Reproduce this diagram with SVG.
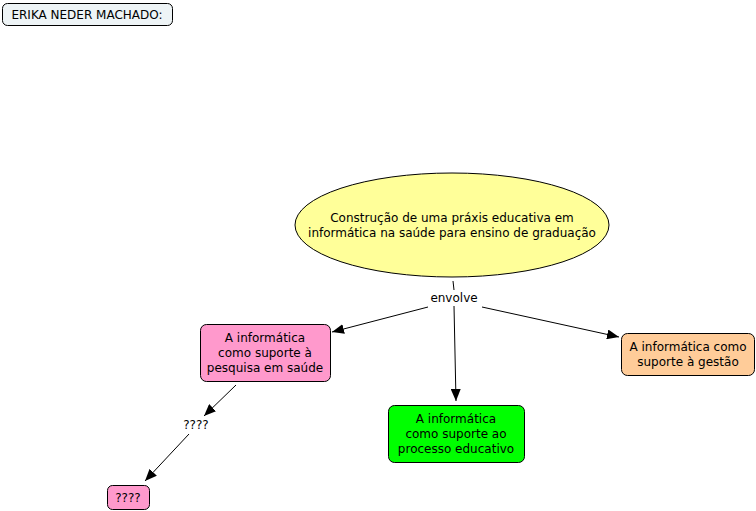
<svg xmlns="http://www.w3.org/2000/svg" width="756" height="511" viewBox="0 0 756 511">
<style>
text{font-family:"DejaVu Sans",Verdana,sans-serif;font-size:12px;fill:#000;text-anchor:middle}
.n{stroke:#000;stroke-width:1}
.c{stroke:#000;stroke-width:1;fill:none}
</style>
<defs>
<marker id="ah" markerWidth="12" markerHeight="10" refX="12" refY="5" orient="auto" markerUnits="userSpaceOnUse">
<path d="M0,0 L12,5 L0,10 Z" fill="#000"/>
</marker>
</defs>
<rect width="756" height="511" fill="#fff"/>
<g id="connectors">
<line class="c" x1="453" y1="281" x2="454" y2="290"/>
<line class="c" x1="454" y1="306" x2="456" y2="401" marker-end="url(#ah)"/>
<line class="c" x1="428" y1="307" x2="332" y2="332" marker-end="url(#ah)"/>
<line class="c" x1="482" y1="307" x2="619" y2="337" marker-end="url(#ah)"/>
<line class="c" x1="236" y1="385" x2="204" y2="416" marker-end="url(#ah)"/>
<line class="c" x1="189" y1="434" x2="145" y2="481" marker-end="url(#ah)"/>
</g>
<g id="title">
<rect class="n" x="2.5" y="3.5" width="170" height="22" rx="5" fill="#eef4f6"/>
<text x="87" y="19">ERIKA NEDER MACHADO:</text>
</g>
<g id="main">
<ellipse class="n" cx="452" cy="225" rx="157" ry="52" fill="#ffff99"/>
<text x="452" y="222">Construção de uma práxis educativa em</text>
<text x="452" y="237">informática na saúde para ensino de graduação</text>
</g>
<g id="envolve">
<text x="454" y="302">envolve</text>
</g>
<g id="pesquisa">
<rect class="n" x="200.5" y="324.5" width="130" height="57" rx="6" fill="#ff99cc"/>
<text x="265" y="342">A informática</text>
<text x="265" y="357">como suporte à</text>
<text x="265" y="372">pesquisa em saúde</text>
</g>
<g id="educativo">
<rect class="n" x="388.5" y="405.5" width="136" height="57" rx="6" fill="#00ff00"/>
<text x="456" y="423">A informática</text>
<text x="456" y="438">como suporte ao</text>
<text x="456" y="453">processo educativo</text>
</g>
<g id="gestao">
<rect class="n" x="621.5" y="333.5" width="133" height="42" rx="6" fill="#ffcc99"/>
<text x="688" y="351">A informática como</text>
<text x="688" y="366">suporte à gestão</text>
</g>
<g id="q1">
<text x="196" y="429">????</text>
</g>
<g id="q2">
<rect class="n" x="107.5" y="485.5" width="42" height="24" rx="5" fill="#ff99cc"/>
<text x="128" y="502">????</text>
</g>
</svg>
